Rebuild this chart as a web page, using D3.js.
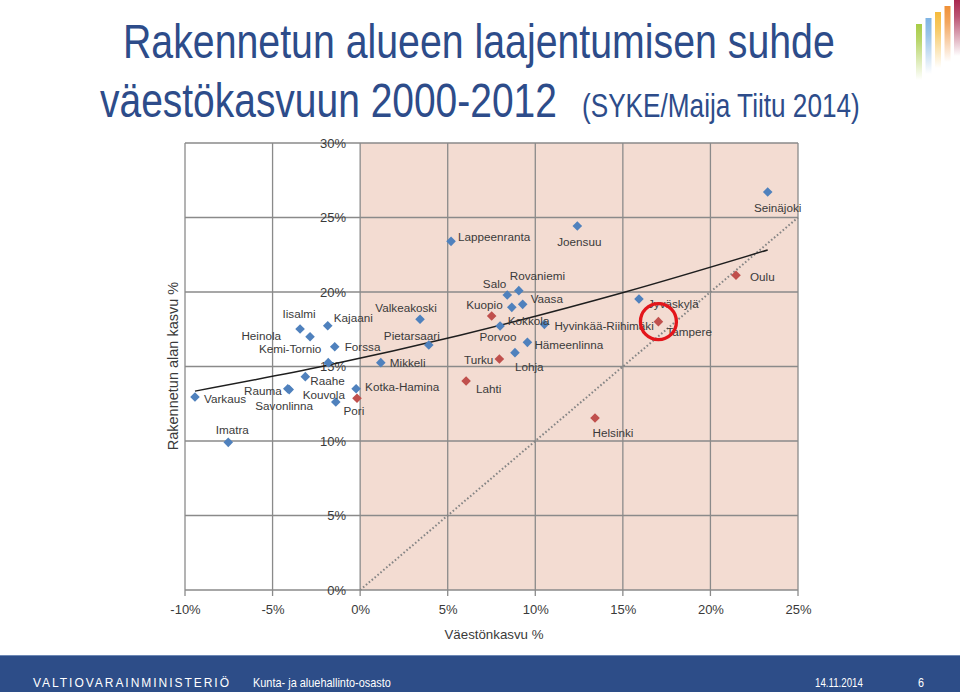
<!DOCTYPE html>
<html><head><meta charset="utf-8">
<script src="https://cdn.jsdelivr.net/npm/d3@7"></script>
<style>body{margin:0;background:#fff}svg{display:block}</style>
</head><body>
<svg id="c" width="960" height="692"></svg>
<script>
// ---- data ----
const cities = ["Seinäjoki","Lappeenranta","Joensuu","Rovaniemi","Salo","Vaasa","Kokkola","Kuopio","Porvoo","Hyvinkää-Riihimäki","Hämeenlinna","Lohja","Turku","Lahti","Helsinki","Jyväskylä","Tampere","Oulu","Valkeakoski","Pietarsaari","Mikkeli","Kotka-Hamina","Pori","Iisalmi","Kajaani","Heinola","Kemi-Tornio","Forssa","Raahe","Rauma","Savonlinna","Kouvola","Varkaus","Imatra"];
const popGrowth = [23.27,5.19,12.40,9.06,8.40,9.28,8.66,7.51,7.99,10.52,9.55,8.84,7.95,6.05,13.41,15.92,17.03,21.46,3.42,3.92,1.18,-0.23,-0.18,-3.43,-1.85,-2.86,-1.82,-1.45,-3.13,-4.13,-4.05,-1.39,-9.43,-7.53];
const builtGrowth = [26.71,23.40,24.43,20.09,19.80,19.17,18.97,18.39,17.72,17.83,16.62,15.93,15.50,14.03,11.54,19.53,18.01,21.12,18.17,16.44,15.26,13.51,12.87,17.52,17.74,17.00,15.26,16.33,14.32,13.51,13.45,12.62,12.95,9.91];
const group = ["b","b","b","b","b","b","b","r","b","b","b","b","r","r","r","b","r","r","b","b","b","b","r","b","b","b","b","b","b","b","b","b","b","b"];
const trendX = [-9.43,-2.0,5.7,15.13,23.27];
const trendY = [13.35,15.05,17.1,20.0,22.82];
const diagX = [0,25];
const diagY = [0,25];
const xTicks = [-10,-5,0,5,10,15,20,25];
const xTickLabels = ["-10%","-5%","0%","5%","10%","15%","20%","25%"];
const yTicks = [0,5,10,15,20,25,30];
const yTickLabels = ["0%","5%","10%","15%","20%","25%","30%"];
const highlight = "Tampere";

// ---- label placement (layout, px offsets from marker) ----
const labelPos = {
 "Seinäjoki":["middle",10,15],"Lappeenranta":["start",7,-5],"Joensuu":["middle",2,16],
 "Rovaniemi":["start",-9,-15],"Salo":["end",-1,-11],"Vaasa":["start",8,-6],
 "Kokkola":["start",-4,13],"Kuopio":["end",11,-11],"Porvoo":["middle",-2,11],
 "Hyvinkää-Riihimäki":["start",10,1],"Hämeenlinna":["start",7,2],"Lohja":["start",0,14],
 "Turku":["end",-6,0],"Lahti":["start",10,8],"Helsinki":["middle",18,14],
 "Jyväskylä":["start",9,4],"Tampere":["start",8,10],"Oulu":["start",14,1],
 "Valkeakoski":["middle",-14,-12],"Pietarsaari":["middle",-17,-10],"Mikkeli":["start",9,0],
 "Kotka-Hamina":["start",9,-2],"Pori":["middle",-3,12],"Iisalmi":["middle",-1,-15],
 "Kajaani":["start",6,-8],"Heinola":["end",-29,-1],"Kemi-Tornio":["end",-7,-14],
 "Forssa":["start",10,0],"Raahe":["start",5,4],"Rauma":["end",-6,2],
 "Savonlinna":["middle",-5,16],"Kouvola":["middle",-12,-7],"Varkaus":["start",9,1],
 "Imatra":["middle",4,-13]
};

const svg = d3.select("#c");
const x = d3.scaleLinear().domain([-10,25]).range([185,798]);
const y = d3.scaleLinear().domain([0,30]).range([590,143]);
const colors = {b:"#4f81bd", r:"#c0504d"};
const chartFont = "'Liberation Sans', Arial, sans-serif";
const ink = "#3a3a3a";

// text condensed horizontally to a target width via a transform
function condensed(px, py, size, color, str, target){
  const t = svg.append("text").attr("x",0).attr("y",0).attr("font-family",chartFont)
    .attr("font-size",size).attr("fill",color).text(str);
  const w = t.node().getComputedTextLength();
  const s = target / w;
  t.attr("transform",`translate(${px},${py}) scale(${s},1)`);
  return t;
}

// title
const titleColor = "#2d4c8a";
condensed(123, 58, 48, titleColor, "Rakennetun alueen laajentumisen suhde", 712);
condensed(100, 117, 48, titleColor, "väestökasvuun 2000-2012", 457);
condensed(582, 117, 33, titleColor, "(SYKE/Maija Tiitu 2014)", 278);

// logo bars
const defs = svg.append("defs");
const logoColors = ["#a3c93c","#78b0e2","#f5b731","#ef8a2b","#a51c45"];
logoColors.forEach((c,i)=>{
  const g = defs.append("linearGradient").attr("id","lg"+i).attr("x1",0).attr("x2",0).attr("y1",0).attr("y2",1);
  g.append("stop").attr("offset","0%").attr("stop-color",c).attr("stop-opacity",0.95);
  g.append("stop").attr("offset","30%").attr("stop-color",c).attr("stop-opacity",0.75);
  g.append("stop").attr("offset","100%").attr("stop-color",c).attr("stop-opacity",0);
});
logoColors.forEach((c,i)=>{
  svg.append("rect").attr("x",916+i*9.5).attr("y",24-i*6).attr("width",6).attr("height",56)
    .attr("fill","url(#lg"+i+")");
});

// plot background shading (x >= 0)
svg.append("rect").attr("x",x(0)).attr("y",y(30)).attr("width",x(25)-x(0)).attr("height",y(0)-y(30))
  .attr("fill","#f3dcd2");

// gridlines
const gridColor = "#8a8a8a";
svg.append("g").selectAll("line").data(xTicks).join("line")
  .attr("x1",d=>x(d)).attr("x2",d=>x(d)).attr("y1",y(30)).attr("y2",y(0)+6)
  .attr("stroke",gridColor).attr("stroke-width",1.3);
svg.append("g").selectAll("line").data(yTicks).join("line")
  .attr("x1",x(-10)).attr("x2",x(25)).attr("y1",d=>y(d)).attr("y2",d=>y(d))
  .attr("stroke",gridColor).attr("stroke-width",1.3);

// x axis labels
const xAxis = svg.append("g").attr("transform",`translate(0,${y(0)})`)
  .call(d3.axisBottom(x).tickValues(xTicks).tickSize(0).tickPadding(15).tickFormat((d,i)=>xTickLabels[i]));
xAxis.select(".domain").remove();
xAxis.selectAll("text").attr("font-family",chartFont).attr("font-size",13).attr("fill",ink);

// y axis labels (axis crosses at x=0)
const yAxis = svg.append("g").attr("transform",`translate(${x(0)-14},0)`)
  .call(d3.axisLeft(y).tickValues(yTicks).tickSize(0).tickPadding(0).tickFormat((d,i)=>yTickLabels[i]));
yAxis.select(".domain").remove();
yAxis.selectAll("text").attr("font-family",chartFont).attr("font-size",13).attr("fill",ink);

// axis titles
svg.append("text").attr("x",494).attr("y",639).attr("text-anchor","middle").attr("font-family",chartFont)
  .attr("font-size",13.3).attr("fill",ink).text("Väestönkasvu %");
svg.append("text").attr("transform",`translate(178,366) rotate(-90)`).attr("text-anchor","middle")
  .attr("font-family",chartFont).attr("font-size",14.5).attr("fill",ink).text("Rakennetun alan kasvu %");

// diagonal y = x
svg.append("path").datum(diagX.map((d,i)=>[d,diagY[i]]))
  .attr("d",d3.line().x(d=>x(d[0])).y(d=>y(d[1])))
  .attr("fill","none").attr("stroke","#858585").attr("stroke-width",2).attr("stroke-dasharray","1.6,2.2");

// trend line
svg.append("path").datum(trendX.map((d,i)=>[d,trendY[i]]))
  .attr("d",d3.line().curve(d3.curveMonotoneX).x(d=>x(d[0])).y(d=>y(d[1])))
  .attr("fill","none").attr("stroke","#1e1e1e").attr("stroke-width",1.4);

// points
const pts = cities.map((c,i)=>({name:c,px:popGrowth[i],py:builtGrowth[i],g:group[i]}));
svg.append("g").selectAll("path").data(pts).join("path")
  .attr("d",d3.symbol(d3.symbolSquare,46))
  .attr("transform",d=>`translate(${x(d.px)},${y(d.py)}) rotate(45)`)
  .attr("fill",d=>colors[d.g]);

// labels
svg.append("g").selectAll("text").data(pts).join("text")
  .attr("x",d=>x(d.px)+labelPos[d.name][1]).attr("y",d=>y(d.py)+labelPos[d.name][2])
  .attr("text-anchor",d=>labelPos[d.name][0]).attr("dominant-baseline","central")
  .attr("font-family",chartFont).attr("font-size",11.7).attr("fill",ink).text(d=>d.name);

// highlight circle
const hp = pts.find(d=>d.name===highlight);
svg.append("circle").attr("cx",x(hp.px)).attr("cy",y(hp.py)).attr("r",18)
  .attr("fill","none").attr("stroke","#e3151b").attr("stroke-width",3.3);

// footer
svg.append("rect").attr("x",0).attr("y",655).attr("width",960).attr("height",37).attr("fill","#2d4d88");
svg.append("line").attr("x1",0).attr("x2",960).attr("y1",655.5).attr("y2",655.5).attr("stroke","#6d88b5").attr("stroke-width",1);
svg.append("text").attr("x",33).attr("y",687).attr("font-family",chartFont).attr("font-size",12)
  .attr("fill","#fff").attr("textLength",196).attr("lengthAdjust","spacing").text("VALTIOVARAINMINISTERIÖ");
condensed(253, 687, 13, "#fff", "Kunta- ja aluehallinto-osasto", 138);
condensed(815, 687, 13, "#fff", "14.11.2014", 48);
condensed(918, 687, 13, "#fff", "6", 6);
</script>
</body></html>
